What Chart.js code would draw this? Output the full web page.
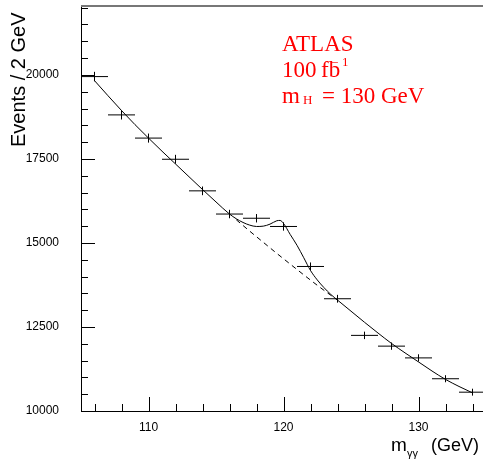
<!DOCTYPE html>
<html>
<head>
<meta charset="utf-8">
<script src="https://cdn.jsdelivr.net/npm/chart.js@4/dist/chart.umd.min.js"></script>
<style>
	html, body { margin: 0; padding: 0; background: #fff; overflow: hidden; }
	canvas { display: block; }
</style>
</head>
<body>
<canvas id="espectro" width="487" height="459"></canvas>
<script>
// diphoton invariant mass, 2 GeV bins
var binCenters = [106, 108, 110, 112, 114, 116, 118, 120, 122, 124, 126, 128, 130, 132, 134];
var events = [19950, 18810, 18120, 17490, 16550, 15860, 15735, 15490, 14300, 13340, 12250, 11930, 11580, 10960, 10560];
var eventErrors = [141, 137, 135, 132, 129, 126, 125, 124, 120, 116, 111, 109, 108, 105, 103];
var binWidth = 2;

// signal + background fit
var fitMass = [106, 107, 108, 109, 110, 111, 112, 113, 114, 115, 116, 116.5, 117, 117.5, 118, 118.5, 119, 119.5, 119.75, 120, 120.5, 121, 121.5, 122, 122.5, 123, 123.5, 124, 125, 126, 127, 128, 129, 130, 131, 132, 133, 134];
var fitEvents = [19830, 19380, 18940, 18520, 18120, 17730, 17350, 16970, 16590, 16220, 15860, 15720, 15610, 15530, 15490, 15500, 15560, 15660, 15670, 15580, 15250, 14930, 14560, 14180, 13900, 13670, 13470, 13300, 12970, 12640, 12320, 12010, 11730, 11460, 11190, 10940, 10730, 10540];

// background only
var bkgMass = [116.5, 117, 117.5, 118, 118.5, 119, 119.5, 120, 121, 122, 123, 124];
var bkgEvents = [15690, 15520, 15350, 15185, 15020, 14855, 14690, 14530, 14210, 13895, 13590, 13300];

var xTickLabels = [110, 120, 130];
var yTickLabels = [10000, 12500, 15000, 17500, 20000];

function toPoints(xs, ys)
{
	var pts = [];
	for (var i = 0; i < xs.length; i++)
		pts.push({ x: xs[i], y: ys[i] });
	return pts;
}

// crosses: bin width horizontally, statistical error vertically
var errorBars = {
	id: 'errorBars',
	afterDatasetsDraw: function (chart) {
		var ctx = chart.ctx, sx = chart.scales.x, sy = chart.scales.y;
		ctx.save();
		ctx.strokeStyle = '#000';
		ctx.lineWidth = 1;
		ctx.beginPath();
		for (var i = 0; i < binCenters.length; i++) {
			var px = sx.getPixelForValue(binCenters[i]);
			var py = sy.getPixelForValue(events[i]);
			ctx.moveTo(sx.getPixelForValue(binCenters[i] - binWidth / 2), py);
			ctx.lineTo(sx.getPixelForValue(binCenters[i] + binWidth / 2), py);
			ctx.moveTo(px, sy.getPixelForValue(events[i] + eventErrors[i]));
			ctx.lineTo(px, sy.getPixelForValue(events[i] - eventErrors[i]));
		}
		ctx.stroke();
		ctx.restore();
	}
};

// inward ticks, frame top and all the text
var frame = {
	id: 'frame',
	afterDraw: function (chart) {
		var ctx = chart.ctx, sx = chart.scales.x, sy = chart.scales.y, a = chart.chartArea;
		var v, p, len;
		ctx.save();
		ctx.strokeStyle = '#000';
		ctx.lineWidth = 1;
		ctx.beginPath();
		for (v = 10000; v <= sy.max; v += 500) {
			p = Math.round(sy.getPixelForValue(v)) + 0.5;
			len = (v % 2500 === 0) ? 14 : 7;
			ctx.moveTo(a.left, p);
			ctx.lineTo(a.left + len, p);
		}
		for (v = 106; v <= sx.max; v += 2) {
			p = Math.round(sx.getPixelForValue(v)) + 0.5;
			len = (v % 10 === 0) ? 14 : 7;
			ctx.moveTo(p, a.bottom);
			ctx.lineTo(p, a.bottom - len);
		}
		ctx.stroke();

		ctx.strokeStyle = '#777';
		ctx.lineWidth = 2;
		ctx.beginPath();
		ctx.moveTo(a.left, a.top);
		ctx.lineTo(a.right, a.top);
		ctx.stroke();

		// axis titles
		ctx.fillStyle = '#000';
		ctx.textBaseline = 'alphabetic';
		ctx.textAlign = 'left';
		ctx.save();
		ctx.translate(25, 147);
		ctx.rotate(-Math.PI / 2);
		ctx.font = '20px "Liberation Sans", Arial, sans-serif';
		ctx.fillText('Events / 2 GeV', 0, 0);
		ctx.restore();

		ctx.font = '19px "Liberation Sans", Arial, sans-serif';
		ctx.fillText('m', 391, 451);
		ctx.font = '18px "Liberation Sans", Arial, sans-serif';
		ctx.fillText('(GeV)', 431, 451);
		ctx.font = '11px "Liberation Sans", Arial, sans-serif';
		ctx.fillText('\u03b3\u03b3', 407, 457);

		// label
		ctx.fillStyle = '#ff0000';
		ctx.font = '23px "Liberation Serif", "Times New Roman", serif';
		ctx.fillText('ATLAS', 282, 51);
		ctx.fillText('100', 282, 77);
		ctx.fillText('fb', 321, 77);
		ctx.fillText('m', 282, 103);
		ctx.fillText('= 130 GeV', 322, 103);
		ctx.font = '13px "Liberation Serif", "Times New Roman", serif';
		ctx.fillText('\u2212', 331, 66.5);
		ctx.fillText('1', 342, 66);
		ctx.fillText('H', 303, 104);
		ctx.restore();
	}
};

var tickFont = { family: '"Liberation Sans", Arial, sans-serif', size: 12 };

new Chart(document.getElementById('espectro'), {
	type: 'scatter',
	data: {
		datasets: [
			{
				label: 'fit',
				data: toPoints(fitMass, fitEvents),
				showLine: true,
				borderColor: '#000',
				borderWidth: 1,
				pointRadius: 0,
				cubicInterpolationMode: 'monotone'
			},
			{
				label: 'background',
				data: toPoints(bkgMass, bkgEvents),
				showLine: true,
				borderColor: '#000',
				borderWidth: 1,
				borderDash: [5, 4],
				pointRadius: 0,
				cubicInterpolationMode: 'monotone'
			},
			{
				label: 'data',
				data: toPoints(binCenters, events),
				showLine: false,
				pointRadius: 0
			}
		]
	},
	options: {
		responsive: false,
		animation: false,
		layout: { padding: { top: 6, right: 1, left: 0, bottom: 0 } },
		plugins: { legend: { display: false }, tooltip: { enabled: false } },
		scales: {
			x: {
				type: 'linear',
				min: 105,
				max: 135,
				grid: { display: false, drawTicks: false },
				border: { display: true, color: '#000', width: 1 },
				afterBuildTicks: function (s) { s.ticks = xTickLabels.map(function (v) { return { value: v }; }); },
				afterFit: function (s) { s.height = 48; s.paddingLeft = 0; s.paddingRight = 0; },
				ticks: { color: '#000', font: tickFont, padding: 9, maxRotation: 0, callback: function (v) { return String(v); } }
			},
			y: {
				type: 'linear',
				min: 10000,
				max: 22050,
				grid: { display: false, drawTicks: false },
				border: { display: true, color: '#000', width: 1 },
				afterBuildTicks: function (s) { s.ticks = yTickLabels.map(function (v) { return { value: v }; }); },
				afterFit: function (s) { s.width = 81; s.paddingTop = 0; s.paddingBottom = 0; },
				ticks: { color: '#000', font: tickFont, padding: 22, callback: function (v) { return String(v); } }
			}
		}
	},
	plugins: [errorBars, frame]
});
</script>
</body>
</html>
